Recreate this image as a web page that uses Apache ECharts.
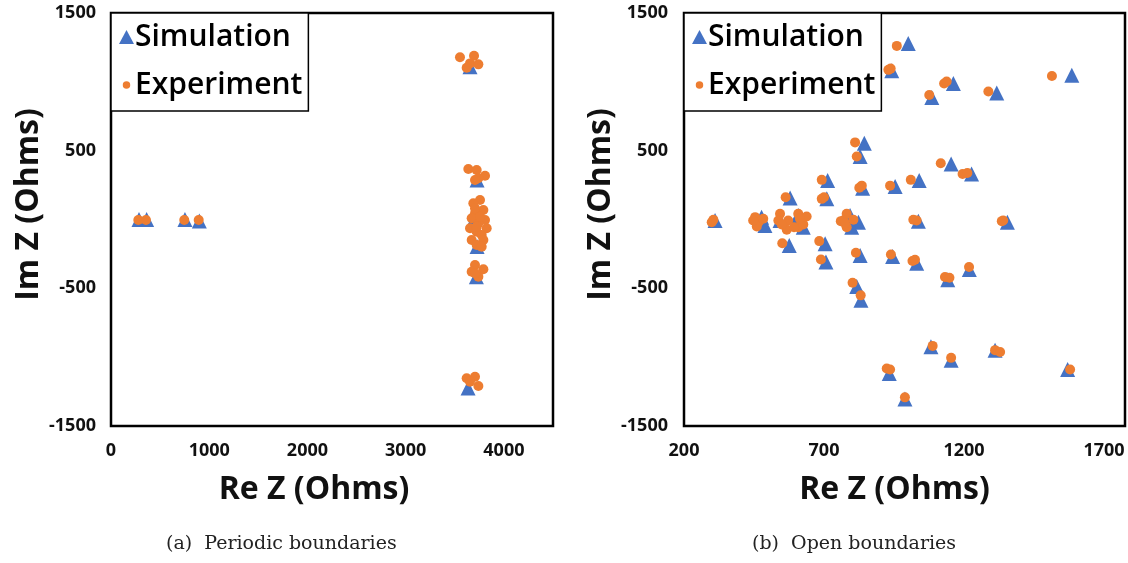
<!DOCTYPE html>
<html>
<head>
<meta charset="utf-8">
<script src="https://cdn.jsdelivr.net/npm/echarts@6/dist/echarts.min.js"></script>
<style>
  html, body { margin: 0; padding: 0; background: #fff; }
  #chart { width: 1128px; height: 563px; }
</style>
</head>
<body>
<div id="chart"></div>
<script>
// (a) periodic boundaries - simulation
const simAReal = [285, 363, 753, 899, 3655, 3727, 3710, 3727, 3720, 3635];
const simAImag = [0, 0, 0, -10, 1110, 287, 20, -197, -415, -1224];
// (a) periodic boundaries - experiment
const expAReal = [278, 356, 746, 893,
  3553, 3696, 3655, 3740, 3621,
  3638, 3723, 3808, 3740, 3706,
  3757, 3689, 3791, 3706, 3672, 3808, 3740, 3655, 3825, 3723, 3774, 3672, 3791, 3723, 3774, 3706, 3757, 3723,
  3706, 3791, 3672, 3740, 3706,
  3621, 3706, 3740, 3655];
const expAImag = [-4, -4, -4, -4,
  1178, 1190, 1134, 1127, 1102,
  367, 359, 318, 299, 287,
  142, 118, 69, 45, 9, -4, -28, -64, -64, -89, -113, -149, -149, -185, -198, 81, 20, -52,
  -330, -362, -379, -415, -391,
  -1153, -1142, -1209, -1178];

// (b) open boundaries - simulation
const simBReal = [1001, 942, 1162, 1085, 1317, 1585, 844, 829, 1154, 1227, 1040, 713, 954, 838, 579, 710,
  311, 477, 489, 543, 608, 626, 793, 823, 799, 1037, 1355,
  576, 704, 707, 829, 945, 1031, 1219, 1142, 817, 832, 1082, 1154, 1311, 933, 1570, 989];
const simBImag = [1278, 1080, 988, 886, 918, 1048, 553, 457, 403, 331, 283, 283, 239, 227, 157, 150,
  -7, 17, -43, -7, 29, -56, 29, -20, -56, -12, -20,
  -188, -176, -309, -261, -268, -317, -364, -437, -486, -587, -925, -1022, -949, -1118, -1089, -1304];
// (b) open boundaries - experiment
const expBReal = [960, 930, 938, 1129, 1138, 1076, 1287, 1514, 811, 817, 1117, 1195, 1212, 1010, 692, 936, 826, 835,
  563, 692, 700, 305, 299,
  454, 466, 460, 483, 447, 543, 537, 572, 567, 549,
  608, 638, 608, 626, 593, 614, 781, 769, 805, 781, 760, 775, 1031, 1019, 1340, 1335,
  551, 683, 689, 814, 939, 1016, 1025, 1218, 1132, 1148, 802, 831,
  1088, 1154, 1311, 1329, 924, 936, 1579, 989];
const expBImag = [1261, 1087, 1096, 988, 1002, 904, 930, 1043, 560, 457, 408, 331, 338, 288, 288, 246, 230, 246,
  162, 150, 162, -2, -20,
  17, -20, -51, 5, -7, 41, -7, -7, -75, -36,
  41, 22, -56, -36, -56, 5, 41, -7, -2, -56, -12, -27, -7, -2, -7, -12,
  -172, -157, -290, -241, -254, -302, -292, -345, -418, -423, -459, -551,
  -918, -1005, -949, -962, -1082, -1089, -1089, -1292];

const captions = ['(a)  Periodic boundaries', '(b)  Open boundaries'];

const zip = (xs, ys) => xs.map((x, i) => [x, ys[i]]);

const BLUE = '#4472C4';
const ORANGE = '#ED7D31';
const FONT = 'Open Sans';
// small dot centred in a 15x15 box, so the legend circle stays smaller than the triangle
const DOT_ICON = 'path://M0,0M15,15M3.5,7.5A4,4 0 1 1 11.5,7.5A4,4 0 1 1 3.5,7.5Z';

const labelStyle = {
  color: '#111',
  fontFamily: FONT,
  fontWeight: 'bold',
  fontSize: 18,
  formatter: v => String(v)
};
const nameStyle = { color: '#111', fontFamily: FONT, fontWeight: 'bold', fontSize: 32 };

function xAxisFor(gi, min, max, interval, shift) {
  return {
    type: 'value', gridIndex: gi, min: min, max: max, interval: interval,
    splitLine: { show: false }, axisTick: { show: false }, axisLine: { show: false },
    axisLabel: Object.assign({ margin: 16, showMaxLabel: false }, labelStyle),
    name: 'Re Z (Ohms)', nameLocation: 'middle', nameGap: 48,
    nameTextStyle: Object.assign({ padding: [0, shift, 0, 0] }, nameStyle)
  };
}
function yAxisFor(gi, margin, gap) {
  return {
    type: 'value', gridIndex: gi, min: -1500, max: 1500, interval: 1000,
    splitLine: { show: false }, axisTick: { show: false }, axisLine: { show: false },
    axisLabel: Object.assign({ margin: margin }, labelStyle),
    name: 'Im Z (Ohms)', nameLocation: 'middle', nameGap: gap, nameRotate: 90,
    nameTextStyle: Object.assign({ padding: [0, 0, 0, 30] }, nameStyle)
  };
}
function legendFor(left) {
  return {
    orient: 'vertical', left: left, top: 13,
    data: [{ name: 'Simulation', icon: 'triangle' }, { name: 'Experiment', icon: DOT_ICON }],
    itemWidth: 15, itemHeight: 14, itemGap: 8,
    padding: [4, 6, 6, 8],
    borderColor: '#000', borderWidth: 1.5, backgroundColor: '#fff',
    selectedMode: false,
    textStyle: { fontFamily: FONT, fontSize: 30, fontWeight: 600, color: '#000', lineHeight: 40, padding: [0, 0, 0, -4] }
  };
}
function scatter(name, gi, data, color, symbol, size, z) {
  return {
    name: name, type: 'scatter', xAxisIndex: gi, yAxisIndex: gi,
    data: data, symbol: symbol, symbolSize: size, z: z,
    itemStyle: { color: color, opacity: 1 }
  };
}

const chart = echarts.init(document.getElementById('chart'), null, { renderer: 'canvas' });
chart.setOption({
  animation: false,
  backgroundColor: '#fff',
  grid: [
    { left: 111, top: 13, width: 442, height: 413, show: true, borderColor: '#000', borderWidth: 2.5 },
    { left: 684, top: 13, width: 441, height: 413, show: true, borderColor: '#000', borderWidth: 2.5 }
  ],
  xAxis: [xAxisFor(0, 0, 4500, 1000, 36), xAxisFor(1, 200, 1775, 500, 20)],
  yAxis: [yAxisFor(0, 15, 60), yAxisFor(1, 16, 62)],
  legend: [legendFor(111), legendFor(684)],
  series: [
    scatter('Simulation', 0, zip(simAReal, simAImag), BLUE, 'triangle', 15, 2),
    scatter('Experiment', 0, zip(expAReal, expAImag), ORANGE, 'circle', 10, 3),
    scatter('Simulation', 1, zip(simBReal, simBImag), BLUE, 'triangle', 15, 2),
    scatter('Experiment', 1, zip(expBReal, expBImag), ORANGE, 'circle', 10, 3)
  ],
  graphic: [
    { type: 'text', left: 166, top: 535, style: { text: captions[0], font: '19px "DejaVu Serif"', fill: '#222' } },
    { type: 'text', left: 752, top: 535, style: { text: captions[1], font: '19px "DejaVu Serif"', fill: '#222' } }
  ]
});
</script>
</body>
</html>
